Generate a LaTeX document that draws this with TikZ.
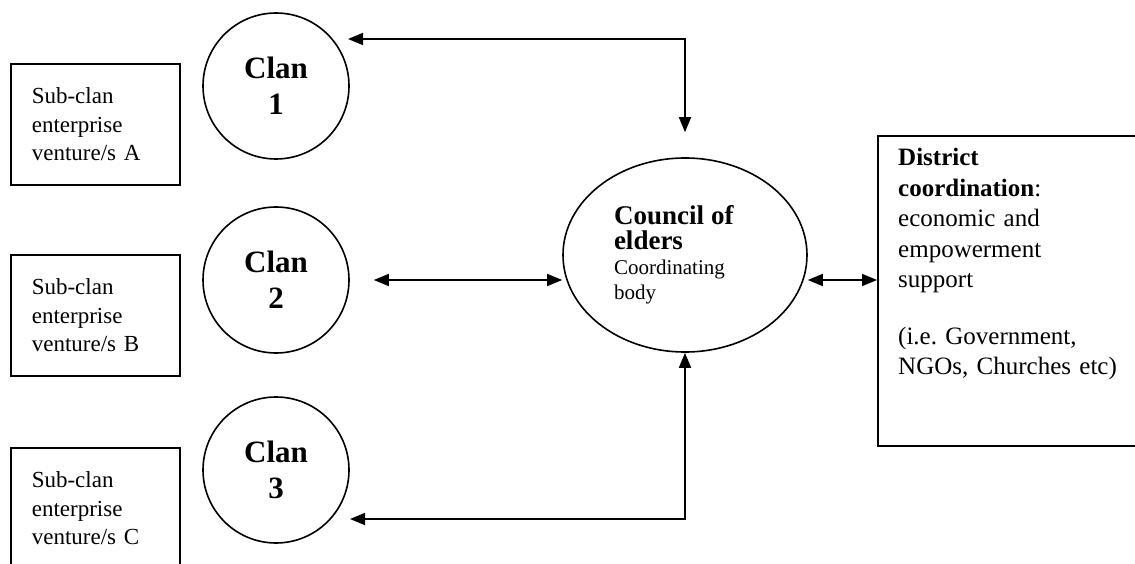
\documentclass[tikz,border=0pt]{standalone}
\usepackage{fontspec}
\setmainfont{Liberation Serif}
\usetikzlibrary{positioning}
\usetikzlibrary{arrows.meta}
\usetikzlibrary{shapes.geometric}
\tikzset{subbox/.style={draw, line width=1.6pt, anchor=north west,
text width=127pt, inner xsep=21pt, minimum height=121pt, align=left,
font=\fontsize{23}{28.5}\selectfont},
clan/.style={draw, circle, line width=1.6pt, minimum size=146pt, inner sep=0pt,
align=center, font=\bfseries\fontsize{31}{36}\selectfont},
link/.style={line width=1.6pt, {Triangle[length=15pt,width=12pt]}-{Triangle[length=15pt,width=12pt]}}}

\begin{document}
\frenchspacing
\begin{tikzpicture}[x=1pt, y=-1pt]
	\useasboundingbox (0,0) rectangle (1135,564);
	\node[subbox] (subA) at (10,63) {Sub-clan\\enterprise\\venture/s A};
	\node[subbox] (subB) at (10,254) {Sub-clan\\enterprise\\venture/s B};
	\node[subbox] (subC) at (10,447) {Sub-clan\\enterprise\\venture/s C};
	\node[clan] (clan1) at (276,86) {Clan\\1};
	\node[clan] (clan2) at (276,280) {Clan\\2};
	\node[clan] (clan3) at (276,470) {Clan\\3};
	\node[draw, ellipse, line width=1.6pt, minimum width=244pt, minimum height=194pt,
		inner sep=0pt, text width=142pt, align=left, font=\fontsize{21}{25}\selectfont]
		(council) at (685,255)
		{{\bfseries\fontsize{27}{30}\selectfont Council of\\elders}\\Coordinating\\body};
	\node[draw, line width=1.6pt, anchor=north west, minimum width=270pt,
		minimum height=310pt] (district) at (877,135) {};
	\node[below right=13pt and 21pt of district.north west, anchor=north west, inner sep=0pt,
		text width=240pt, align=left, font=\fontsize{25}{30.5}\selectfont] (districttxt)
		{\textbf{District}\\\textbf{coordination}:\\economic and\\empowerment\\support\\[26pt]
		(i.e. Government,\\NGOs, Churches etc)};
	\coordinate (t1) at (348,39);
	\coordinate (b3) at (350,519);
	\draw[link] (t1) -- (t1 -| council.north) -- ([yshift=25pt]council.north);
	\draw[link, shorten <=24pt] (clan2.east) -- (clan2.east -| council.west);
	\draw[link] (clan2.east -| council.east) -- (clan2.east -| district.west);
	\draw[link] (b3) -- (b3 -| council.south) -- (council.south);
\end{tikzpicture}
\end{document}
